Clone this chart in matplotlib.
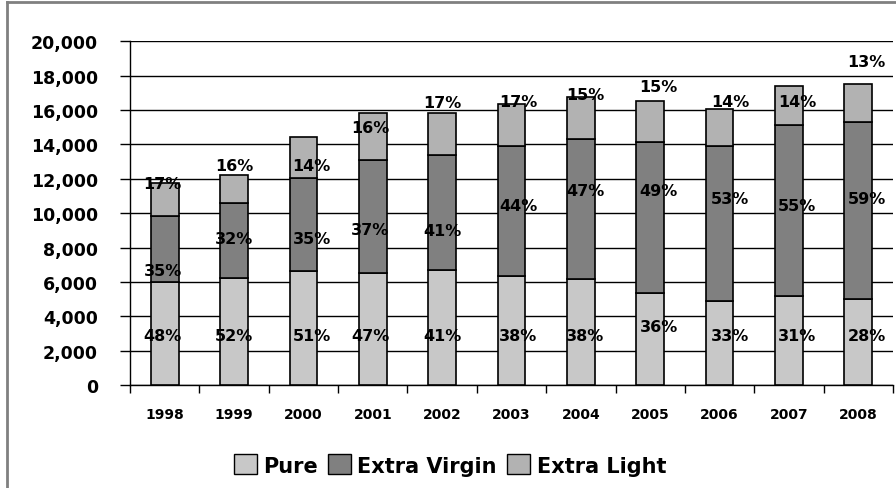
import matplotlib.pyplot as plt
import matplotlib.patches as mpatches
import numpy as np

# data
years = ['1998', '1999', '2000', '2001', '2002', '2003', '2004', '2005', '2006', '2007', '2008']
pure = [6000, 6220, 6610, 6510, 6690, 6340, 6140, 5370, 4900, 5170, 4980]
extra_virgin = [3850, 4380, 5420, 6610, 6680, 7570, 8200, 8780, 9000, 9950, 10310]
extra_light = [1880, 1630, 2430, 2710, 2460, 2470, 2440, 2380, 2170, 2280, 2210]

pure_pct = ['48%', '52%', '51%', '47%', '41%', '38%', '38%', '36%', '33%', '31%', '28%']
ev_pct = ['35%', '32%', '35%', '37%', '41%', '44%', '47%', '49%', '53%', '55%', '59%']
light_pct = ['17%', '16%', '14%', '16%', '17%', '17%', '15%', '15%', '14%', '14%', '13%']

# where the percentage labels sit (data units), as placed in the original
pure_label_y = [2900, 2900, 2900, 2900, 2900, 2900, 2900, 3430, 2900, 2900, 2900]
ev_label_y = [6650, 8550, 8550, 9030, 8970, 10420, 11340, 11340, 10870, 10420, 10870]
light_label_y = [11730, 12750, 12800, 14980, 16450, 16470, 16920, 17360, 16470, 16470, 18800]
label_dx = [-0.03, 0, 0.12, -0.04, 0, 0.1, 0.06, 0.12, 0.15, 0.12, 0.12]

c_pure = '#c8c8c8'
c_ev = '#808080'
c_light = '#b2b2b2'

plt.rcParams['font.family'] = ['DejaVu Sans']
plt.rcParams['font.weight'] = 'bold'

fig = plt.figure(figsize=(8.96, 4.89), dpi=100)
ax = fig.add_axes([130 / 896, 1 - 386 / 489, (893 - 130) / 896, (386 - 42.3) / 489])

x = np.arange(len(years))
w = 0.4
bottom2 = np.array(pure) + np.array(extra_virgin)
ax.bar(x, pure, w, color=c_pure, edgecolor='black', linewidth=1.2, zorder=3)
ax.bar(x, extra_virgin, w, bottom=pure, color=c_ev, edgecolor='black', linewidth=1.2, zorder=3)
ax.bar(x, extra_light, w, bottom=bottom2, color=c_light, edgecolor='black', linewidth=1.2, zorder=3)

for i in range(len(years)):
    xi = x[i] + label_dx[i]
    ax.text(xi, pure_label_y[i], pure_pct[i], ha='center', va='center', fontsize=11.5, zorder=4)
    ax.text(xi, ev_label_y[i], ev_pct[i], ha='center', va='center', fontsize=11.5, zorder=4)
    ax.text(xi, light_label_y[i], light_pct[i], ha='center', va='center', fontsize=11.5, zorder=4)

ax.set_xlim(-0.5, len(years) - 0.5)
ax.set_ylim(0, 20000)
ax.set_yticks(np.arange(0, 20001, 2000))
ax.set_yticklabels([f'{v:,}' for v in range(0, 20001, 2000)], fontsize=12.5)
ax.yaxis.grid(True, color='black', linewidth=1)
ax.set_axisbelow(True)

ax.set_xticks(np.arange(-0.5, len(years), 1))
ax.set_xticklabels([])
ax.set_xticks(x, minor=True)
ax.set_xticklabels(years, minor=True, fontsize=10)
ax.tick_params(axis='x', which='major', length=6, width=1, color='black')
ax.tick_params(axis='x', which='minor', length=0, pad=16)
ax.tick_params(axis='y', length=7, width=1, pad=16)
for lab in ax.get_yticklabels():
    lab.set_horizontalalignment('right')

for s in ['top', 'right']:
    ax.spines[s].set_visible(False)
ax.spines['left'].set_linewidth(1)
ax.spines['bottom'].set_linewidth(1)

handles = [mpatches.Patch(facecolor=c_pure, edgecolor='black', label='Pure'),
           mpatches.Patch(facecolor=c_ev, edgecolor='black', label='Extra Virgin'),
           mpatches.Patch(facecolor=c_light, edgecolor='black', label='Extra Light')]
fig.legend(handles=handles, loc='center', bbox_to_anchor=(450 / 896, 1 - 466 / 489),
           ncol=3, frameon=False, fontsize=15, handlelength=1.1, handleheight=1.1,
           handletextpad=0.3, columnspacing=0.5)

# outer frame (left and top edges show in the crop)
fig.add_artist(plt.Line2D([7 / 896, 7 / 896], [0, 1 - 3 / 489], transform=fig.transFigure,
                          color='#808080', linewidth=2))
fig.add_artist(plt.Line2D([7 / 896, 1], [1 - 3 / 489, 1 - 3 / 489], transform=fig.transFigure,
                          color='#808080', linewidth=2))

fig.savefig('out.png', dpi=100)
